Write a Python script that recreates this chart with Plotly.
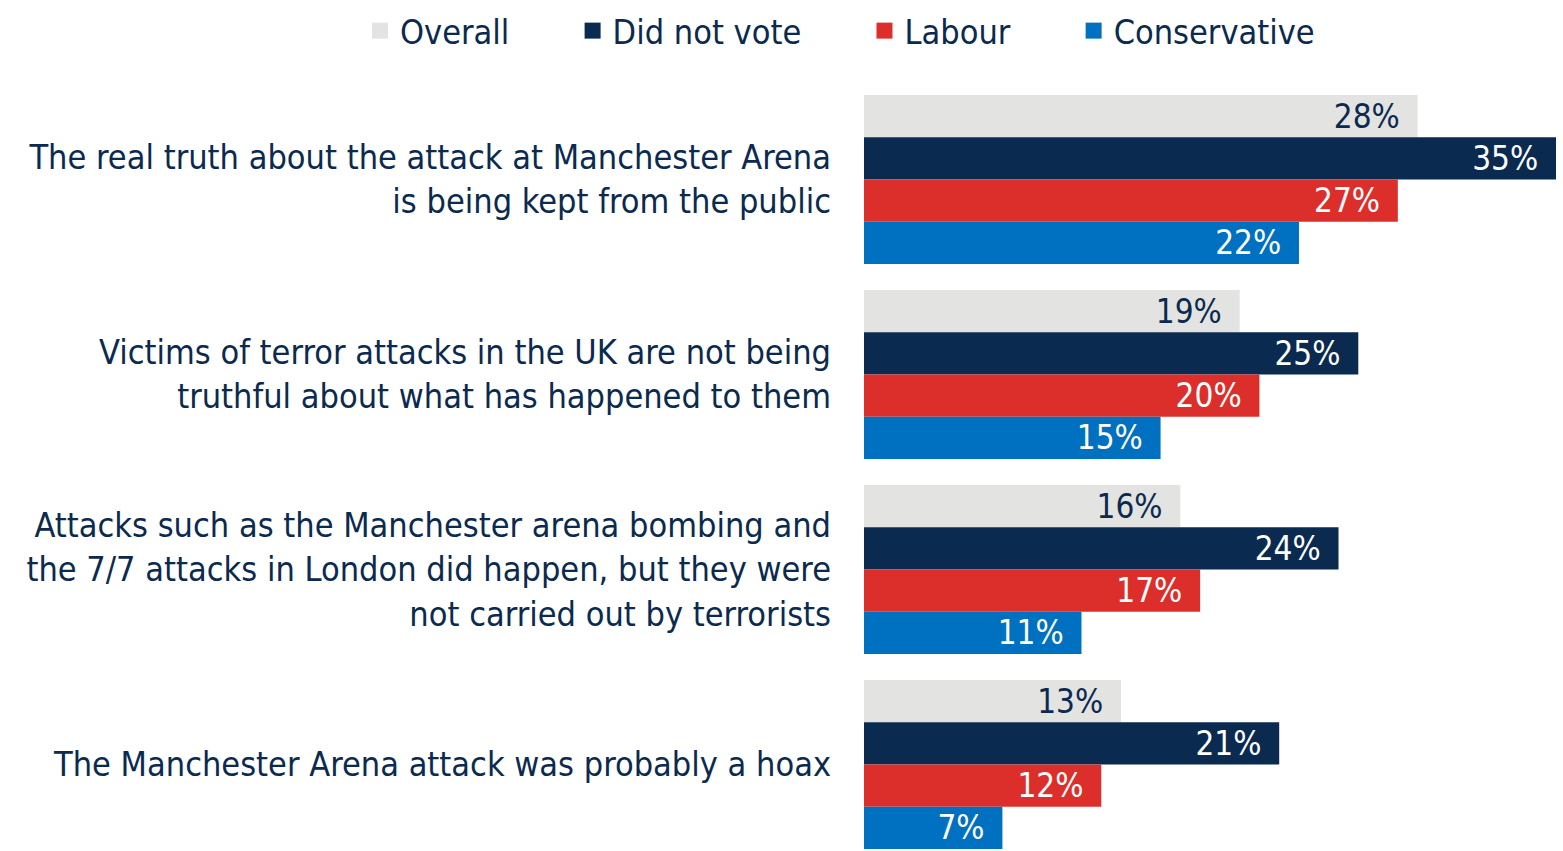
import plotly.graph_objects as go

categories = [
    "The real truth about the attack at Manchester Arena<br>is being kept from the public",
    "Victims of terror attacks in the UK are not being<br>truthful about what has happened to them",
    "Attacks such as the Manchester arena bombing and<br>the 7/7 attacks in London did happen, but they were<br>not carried out by terrorists",
    "The Manchester Arena attack was probably a hoax",
]
series_names = ["Overall", "Did not vote", "Labour", "Conservative"]
overall = [28, 19, 16, 13]
did_not_vote = [35, 25, 24, 21]
labour = [27, 20, 17, 12]
conservative = [22, 15, 11, 7]
values = [overall, did_not_vote, labour, conservative]

colors = ["#e3e3e2", "#0b2a4f", "#dc2f2c", "#0070c0"]
text_colors = ["#0b2a4f", "#ffffff", "#ffffff", "#ffffff"]
NAVY = "#0b2a4f"
FONT = "DejaVu Sans Condensed, Liberation Sans Narrow, sans-serif"

fig = go.Figure()
for name, vals, col, tcol in zip(series_names, values, colors, text_colors):
    fig.add_trace(go.Bar(
        y=categories, x=vals, orientation="h", name=name,
        marker=dict(color=col, line=dict(width=0)),
        texttemplate="%{x}%\u2002", textposition="inside",
        insidetextanchor="end", constraintext="none",
        textfont=dict(color=tcol, size=33, family=FONT),
        showlegend=False, hoverinfo="skip",
    ))
# legend entries with larger square symbols
for name, col in zip(series_names, colors):
    fig.add_trace(go.Scatter(
        x=[None], y=[None], mode="markers", name=name + "\u00a0" * 6,
        marker=dict(symbol="square", size=20, color=col),
        showlegend=True,
    ))

fig.update_layout(
    width=1563, height=851,
    margin=dict(l=864, r=7, t=82, b=0),
    paper_bgcolor="white", plot_bgcolor="white",
    barmode="group", bargap=0.133, bargroupgap=0,
    font=dict(family=FONT, color=NAVY, size=34),
    legend=dict(orientation="h", xref="paper", yref="paper",
                x=-0.7283, xanchor="left", y=1.104, yanchor="top",
                font=dict(size=34, color=NAVY, family=FONT),
                itemsizing="trace", tracegroupgap=0, itemwidth=30,
                bgcolor="rgba(0,0,0,0)"),
    xaxis=dict(range=[0, 35], visible=False, showgrid=False, zeroline=False),
    yaxis=dict(type="category", categoryorder="array", categoryarray=categories,
               range=[3.444, -0.5], showgrid=False, zeroline=False, showline=False,
               ticks="", ticklabelstandoff=32, automargin=False,
               tickfont=dict(size=34, color=NAVY, family=FONT)),
)

fig.write_html("out.html")
